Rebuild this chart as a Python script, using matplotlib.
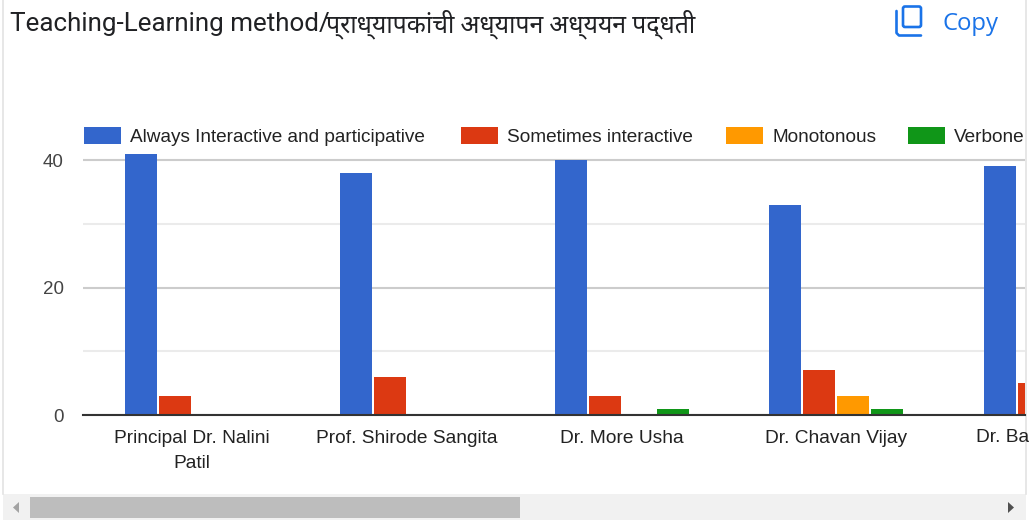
import numpy as np
import matplotlib
matplotlib.use("Agg")
import matplotlib.pyplot as plt
from matplotlib.patches import Rectangle, FancyBboxPatch, Polygon

W, H = 1029, 520

# data (5th group is cut by the scroll area)
categories = ["Principal Dr. Nalini\nPatil", "Prof. Shirode Sangita", "Dr. More Usha", "Dr. Chavan Vijay", "Dr. Ba"]
series_names = ["Always Interactive and participative", "Sometimes interactive", "Monotonous", "Verbone"]
always = [41, 38, 40, 33, 39]
sometimes = [3, 6, 3, 7, 5]
monotonous = [0, 0, 0, 3, 0]
verbose = [0, 0, 1, 1, 0]
colors = ["#3366cc", "#dc3912", "#ff9900", "#109618"]

TITLE_EN = "Teaching-Learning method/"
TITLE_MR = "प्राध्यापकांची अध्यापन अध्ययन पद्धती"
legend_x = [84, 461, 726, 908]

fig = plt.figure(figsize=(W / 100, H / 100), dpi=100, facecolor="white")


def px_rect(left, top, right, bottom):
    return [left / W, 1 - bottom / H, (right - left) / W, (bottom - top) / H]


# overlay in pixel coords for the page furniture
bg = fig.add_axes([0, 0, 1, 1])
bg.set_xlim(0, W)
bg.set_ylim(H, 0)
bg.axis("off")

# chart
ax = fig.add_axes(px_rect(83, 100, 1025, 415))
ax.patch.set_visible(False)
step = 214.75
bar_w = 32 / step
pitch = 34 / step
x = np.arange(len(categories))
for i, vals in enumerate([always, sometimes, monotonous, verbose]):
    ax.bar(x + (i - 1.5) * pitch, vals, width=bar_w, color=colors[i], zorder=3)

ax.set_xlim((83 - 192) / step, (1025 - 192) / step)
ax.set_ylim(0, 315 / 6.375)
ax.set_yticks([0, 20, 40])
ax.set_yticks([10, 30], minor=True)
ax.grid(axis="y", which="major", color="#cccccc", lw=1.5, zorder=1)
ax.grid(axis="y", which="minor", color="#ebebeb", lw=1.5, zorder=1)
for s in ["top", "left", "right"]:
    ax.spines[s].set_visible(False)
ax.spines["bottom"].set_color("#333333")
ax.spines["bottom"].set_linewidth(1.5)
ax.spines["bottom"].set_zorder(4)
ax.tick_params(axis="both", which="both", length=0)
ax.tick_params(axis="y", labelsize=13.5, labelcolor="#444444", pad=14)
ax.set_xticks(x[:-1])
ax.set_xticklabels(categories[:-1], fontfamily="Liberation Sans", fontsize=13.8, color="#222222", linespacing=1.62)
for lab in ax.get_yticklabels():
    lab.set_fontfamily("Liberation Sans")
ax.tick_params(axis="x", pad=10.5)
# last label only partly visible
last = bg.text(976, 437, categories[-1], family="Liberation Sans", fontsize=13.8, color="#222222", va="center", ha="left")

# legend
for name, col, lx in zip(series_names, colors, legend_x):
    bg.add_patch(Rectangle((lx, 127), 37, 17, facecolor=col, edgecolor="none"))
    t = bg.text(lx + 46, 137, name, family="Liberation Sans", fontsize=13.7, color="#222222", va="center", ha="left")
    t.set_clip_path(Rectangle((0, 0), 1025, H, transform=bg.transData))

# title and copy button
title_fonts = ["Roboto", "Noto Sans", "DejaVu Sans"]
bg.text(10, 24.5, TITLE_EN, family=title_fonts, fontsize=18.7, color="#202124", va="center")
bg.text(326, 24.5, TITLE_MR, family=title_fonts, fontsize=17.9, color="#202124", va="center")
bg.text(942, 23.5, "Copy", family="Open Sans", fontsize=17.2, color="#1a73e8", va="center")
bg.add_patch(FancyBboxPatch((903, 6.5), 18, 20.5, boxstyle="round,pad=0,rounding_size=2", fill=False, ec="#1a73e8", lw=1.9))
bg.plot([896.5, 896.5, 899, 921], [11, 33, 35.5, 35.5], color="#1a73e8", lw=1.9, solid_capstyle="round")

# card borders
bg.plot([2.5, 2.5], [0, 494], color="#e3e3e3", lw=1.2)
bg.plot([1026, 1026], [0, 494], color="#e3e3e3", lw=1.2)

# scrollbar
bg.add_patch(Rectangle((3, 494), 1023, 26, facecolor="#f1f1f1", edgecolor="none"))
bg.add_patch(Rectangle((30, 497), 490, 21, facecolor="#bdbdbd", edgecolor="none"))
bg.add_patch(Polygon([[19, 502], [19, 513], [13, 507.5]], facecolor="#a3a3a3", edgecolor="none"))
bg.add_patch(Polygon([[1008, 502], [1008, 513], [1014, 507.5]], facecolor="#505050", edgecolor="none"))

last.set_clip_path(Rectangle((0, 0), 1025, H, transform=bg.transData))
fig.savefig("out.png", dpi=100)
